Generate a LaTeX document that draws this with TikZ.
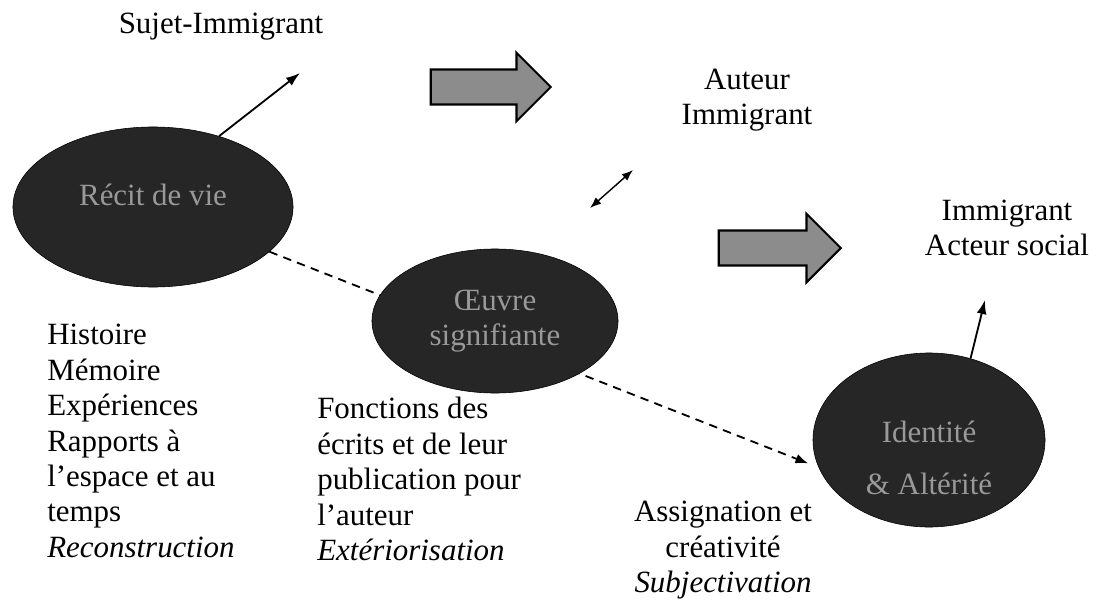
\documentclass[tikz,border=0pt]{standalone}
\usepackage{fontspec}
\setmainfont{Liberation Serif}
\usetikzlibrary{positioning, arrows.meta}
\usetikzlibrary{shapes.geometric, shapes.arrows}

\begin{document}
\begin{tikzpicture}[
          x=0.025cm, y=-0.025cm,
          every node/.style={font=\fontsize{22}{25.2}\selectfont},
          title/.style={align=center, inner sep=0pt},
          notes/.style={align=left, inner sep=0pt, anchor=north west},
          bubble/.style={ellipse, draw=black, fill=black!85, text=black!40, align=center, inner sep=0pt},
          bigarrow/.style={single arrow, draw=black, line width=1.5pt, fill=black!45, minimum height=3cm, inner xsep=0pt, inner ysep=0.41cm, single arrow head extend=0.42cm},
          arrow/.style={-{Latex[length=10pt, width=7pt]}, line width=1.3pt},
          dblarrow/.style={{Latex[length=8pt, width=6pt]}-{Latex[length=8pt, width=6pt]}, line width=1pt},
          link/.style={-{Latex[length=9pt, width=7pt]}, line width=1.3pt, dash pattern=on 6pt off 4.5pt, shorten >=8pt}
        ]
          \useasboundingbox (0,0) rectangle (1096,604);

          % Titles
          \node[title] (sujet) at (221,27) {Sujet-Immigrant};
          \node[title] (auteur) at (747,100) {Auteur\\Immigrant};
          \node[title] (acteur) at (1007,228) {Immigrant\\Acteur social};

          % Big arrows
          \node[bigarrow] (fleche1) at (482,87) {};
          \node[bigarrow, minimum height=3.05cm] (fleche2) at (771,248) {};

          % Ellipses
          \node[bubble, minimum width=7cm, minimum height=4cm, text depth=0.63cm] (recit) at (153,207) {Récit de vie};
          \node[bubble, minimum width=5.8cm, minimum height=4.35cm, text height=2.75cm] (identite) at (929,440) {Identité\\[12pt]\& Altérité};

          % Dashed link (behind the middle ellipse)
          \draw[link] (recit.-21) -- (identite.194);

          \node[bubble, minimum width=6.15cm, minimum height=3.6cm] (oeuvre) at (495,321) {Œuvre\\signifiante};

          % Notes
          \node[notes] (histoire) at (47,324) {Histoire\\Mémoire\\Expériences\\Rapports à\\l’espace et au\\temps\\\textit{Reconstruction}};
          \node[notes] (fonctions) at (317,397) {Fonctions des\\écrits et de leur\\publication pour\\l’auteur\\\textit{Extériorisation}};
          \node[title, anchor=north] (assignation) at (723,501) {Assignation et\\créativité\\\textit{Subjectivation}};

          % Arrows
          \coordinate (sujetend) at (300,73);
          \coordinate (dbltop) at (633,170);
          \coordinate (dblbot) at (590,208);
          \coordinate (acteurend) at (985,300);
          \draw[arrow] (recit.47) -- (sujetend);
          \draw[dblarrow] (dblbot) -- (dbltop);
          \draw[arrow] (identite.63) -- (acteurend);
      \end{tikzpicture}
\end{document}
